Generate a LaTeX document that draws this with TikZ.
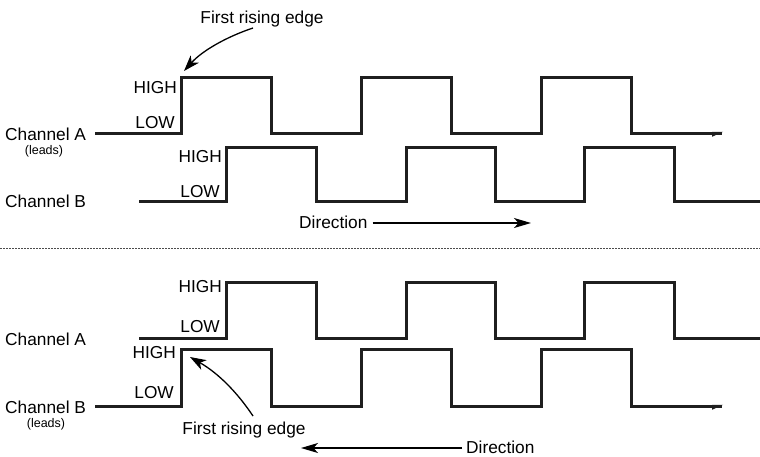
\documentclass[tikz,border=0pt]{standalone}
\usepackage{fontspec}
\setmainfont{Liberation Sans}
\usetikzlibrary{arrows.meta}
\begin{document}
\begin{tikzpicture}[x=1pt,y=-1pt,
  lbl/.style={inner sep=0pt,font=\fontsize{17.3}{20}\selectfont},
  small/.style={inner sep=0pt,font=\fontsize{12.5}{14}\selectfont},
  wave/.style={line width=3pt,line join=miter,black!88},
  pointer/.style={line width=1.3pt,-{Stealth[length=16pt,width=11pt,inset=4.5pt]}},
  dirarrow/.style={line width=1.3pt,-{Stealth[length=17pt,width=10pt,inset=4.5pt]}},
  divider/.style={line width=0.8pt,black!70,dash pattern=on 1.5pt off 1.5pt}]
\useasboundingbox (0,0) rectangle (760,456);

% ---------- top panel ----------
\node[lbl,anchor=base] (fre1) at (262,23) {First rising edge};
\node[lbl,anchor=base east] (hiA1) at (177,93) {HIGH};
\node[lbl,anchor=base east] (loA1) at (175,128) {LOW};
\node[lbl,anchor=base west] (chA1) at (5,140) {Channel A};
\node[small,anchor=base] (ldA1) at (44,154) {(leads)};
\node[lbl,anchor=base east] (hiB1) at (222,162) {HIGH};
\node[lbl,anchor=base east] (loB1) at (220,197) {LOW};
\node[lbl,anchor=base west] (chB1) at (5,207) {Channel B};
\node[lbl,anchor=base west] (dir1) at (299,228) {Direction};

\draw[wave] (95,133) -- (181,133) -- (181,77) -- (271,77) -- (271,133) -- (361,133) -- (361,77)
  -- (451,77) -- (451,133) -- (541,133) -- (541,77) -- (631,77) -- (631,133) -- (722,133);
\fill[black!88] (723,131.8) -- (712,131.8) -- (712,136.8) -- cycle;
\draw[wave] (139,201) -- (226,201) -- (226,147) -- (316,147) -- (316,201) -- (406,201) -- (406,147)
  -- (495,147) -- (495,201) -- (584,201) -- (584,147) -- (674,147) -- (674,201) -- (760,201);

\coordinate (s1) at (253,28);
\coordinate (e1) at (184,71);
\draw[pointer] (s1) .. controls (226,37) and (202,51) .. (e1);
\coordinate (d1) at (531,223);
\draw[dirarrow] (dir1.east |- d1) ++(5,0) coordinate (d1s) -- (d1);

% divider
\coordinate (l0) at (0,248);
\coordinate (l1) at (760,248);
\draw[divider] (l0) -- (l1);

% ---------- bottom panel ----------
\node[lbl,anchor=base east] (hiA2) at (222,292) {HIGH};
\node[lbl,anchor=base east] (loA2) at (220,332) {LOW};
\node[lbl,anchor=base west] (chA2) at (5,345) {Channel A};
\node[lbl,anchor=base east] (hiB2) at (176,358) {HIGH};
\node[lbl,anchor=base east] (loB2) at (174,398) {LOW};
\node[lbl,anchor=base west] (chB2) at (5,413) {Channel B};
\node[small,anchor=base] (ldB2) at (46,427) {(leads)};
\node[lbl,anchor=base] (fre2) at (244,434) {First rising edge};
\node[lbl,anchor=base west] (dir2) at (466,453) {Direction};

\draw[wave] (139,338) -- (226,338) -- (226,282) -- (316,282) -- (316,338) -- (406,338) -- (406,282)
  -- (495,282) -- (495,338) -- (584,338) -- (584,282) -- (674,282) -- (674,338) -- (760,338);
\draw[wave] (95,406) -- (181,406) -- (181,349) -- (271,349) -- (271,406) -- (361,406) -- (361,349)
  -- (451,349) -- (451,406) -- (541,406) -- (541,349) -- (631,349) -- (631,406) -- (722,406);
\fill[black!88] (723,404.8) -- (712,404.8) -- (712,409.8) -- cycle;

\coordinate (s2) at (253,416);
\coordinate (e2) at (190,357);
\draw[pointer] (s2) .. controls (237,392) and (218,373) .. (e2);
\coordinate (d2) at (301,448);
\draw[dirarrow] (dir2.west |- d2) ++(-4,0) coordinate (d2s) -- (d2);
\end{tikzpicture}
\end{document}
